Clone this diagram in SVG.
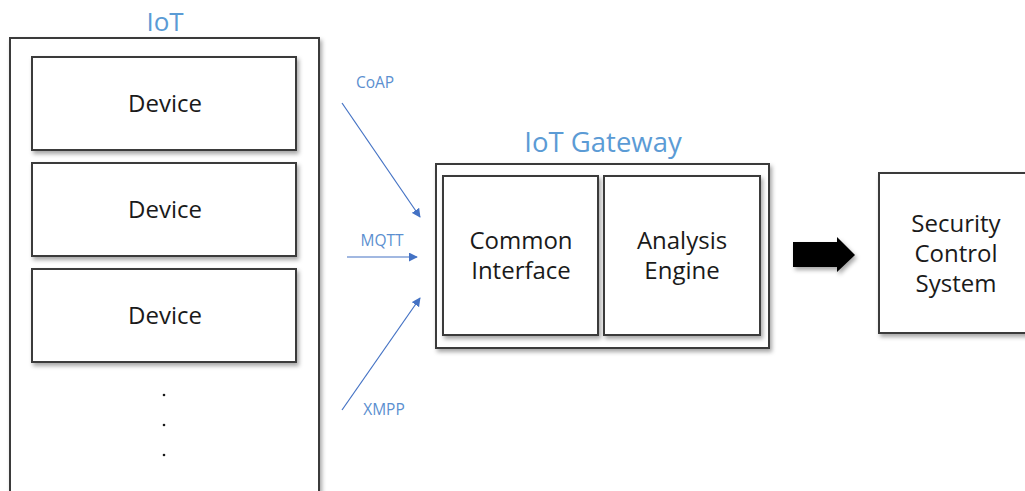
<svg xmlns="http://www.w3.org/2000/svg" width="1025" height="491" viewBox="0 0 1025 491">
  <style>
    .box { fill: #ffffff; stroke: #3a3a3a; stroke-width: 2; filter: url(#shadow); }
    .lbl { font-family: "Open Sans", "Noto Sans", "Liberation Sans", sans-serif; font-size: 24px; fill: #1a1a1a; text-anchor: middle; }
    .title { font-family: "Open Sans", "Noto Sans", "Liberation Sans", sans-serif; fill: #5b9bd5; text-anchor: middle; }
    .proto { font-family: "Open Sans", "Noto Sans", "Liberation Sans", sans-serif; font-size: 15.5px; fill: #5b8fd0; text-anchor: middle; }
    .link { stroke: #4472c4; stroke-width: 1.2; fill: none; marker-end: url(#tip); }
  </style>
  <defs>
    <filter id="shadow" x="-10%" y="-10%" width="130%" height="130%">
      <feDropShadow dx="2" dy="3" stdDeviation="2" flood-color="#000000" flood-opacity="0.35"/>
    </filter>
    <marker id="tip" viewBox="0 0 10 10" refX="9" refY="5" markerWidth="9" markerHeight="9" markerUnits="userSpaceOnUse" orient="auto">
      <path d="M0,0 L10,5 L0,10 z" fill="#4472c4"/>
    </marker>
  </defs>

  <rect width="1025" height="491" fill="#ffffff"/>

  <!-- IoT device group -->
  <g id="iot">
    <text class="title" x="165" y="31" font-size="26">IoT</text>
    <rect class="box" x="10" y="38" width="309" height="470"/>
  </g>
  <g id="device1">
    <rect class="box" x="32" y="57" width="264" height="93"/>
    <text class="lbl" x="165" y="112">Device</text>
  </g>
  <g id="device2">
    <rect class="box" x="32" y="163" width="264" height="93"/>
    <text class="lbl" x="165" y="218">Device</text>
  </g>
  <g id="device3">
    <rect class="box" x="32" y="269" width="264" height="93"/>
    <text class="lbl" x="165" y="324">Device</text>
  </g>
  <g id="more" fill="#1a1a1a">
    <circle cx="164" cy="395" r="1.3"/>
    <circle cx="164" cy="425" r="1.3"/>
    <circle cx="164" cy="455" r="1.3"/>
  </g>

  <!-- Gateway -->
  <g id="gateway">
    <text class="title" x="603" y="152" font-size="27.5">IoT Gateway</text>
    <rect class="box" x="436" y="164" width="333" height="184"/>
  </g>
  <g id="common-interface">
    <rect class="box" x="443" y="176" width="155" height="159"/>
    <text class="lbl" x="521" y="249">Common</text>
    <text class="lbl" x="521" y="279">Interface</text>
  </g>
  <g id="analysis-engine">
    <rect class="box" x="604" y="176" width="156" height="159"/>
    <text class="lbl" x="682" y="249">Analysis</text>
    <text class="lbl" x="682" y="279">Engine</text>
  </g>

  <!-- Security control system -->
  <g id="security">
    <rect class="box" x="879" y="173" width="160" height="160"/>
    <text class="lbl" x="956" y="232">Security</text>
    <text class="lbl" x="956" y="262">Control</text>
    <text class="lbl" x="956" y="292">System</text>
  </g>

  <!-- Connectors -->
  <g id="connectors">
    <line class="link" x1="342" y1="103" x2="420" y2="217"/>
    <line class="link" x1="347" y1="257" x2="417" y2="257"/>
    <line class="link" x1="342" y1="410" x2="420" y2="298"/>
    <text class="proto" x="375" y="88">CoAP</text>
    <text class="proto" x="382" y="246">MQTT</text>
    <text class="proto" x="384" y="415">XMPP</text>
    <path d="M793,242 L837,242 L837,237 L855,255 L837,272 L837,267 L793,267 z" fill="#000000" filter="url(#shadow)"/>
  </g>
</svg>
